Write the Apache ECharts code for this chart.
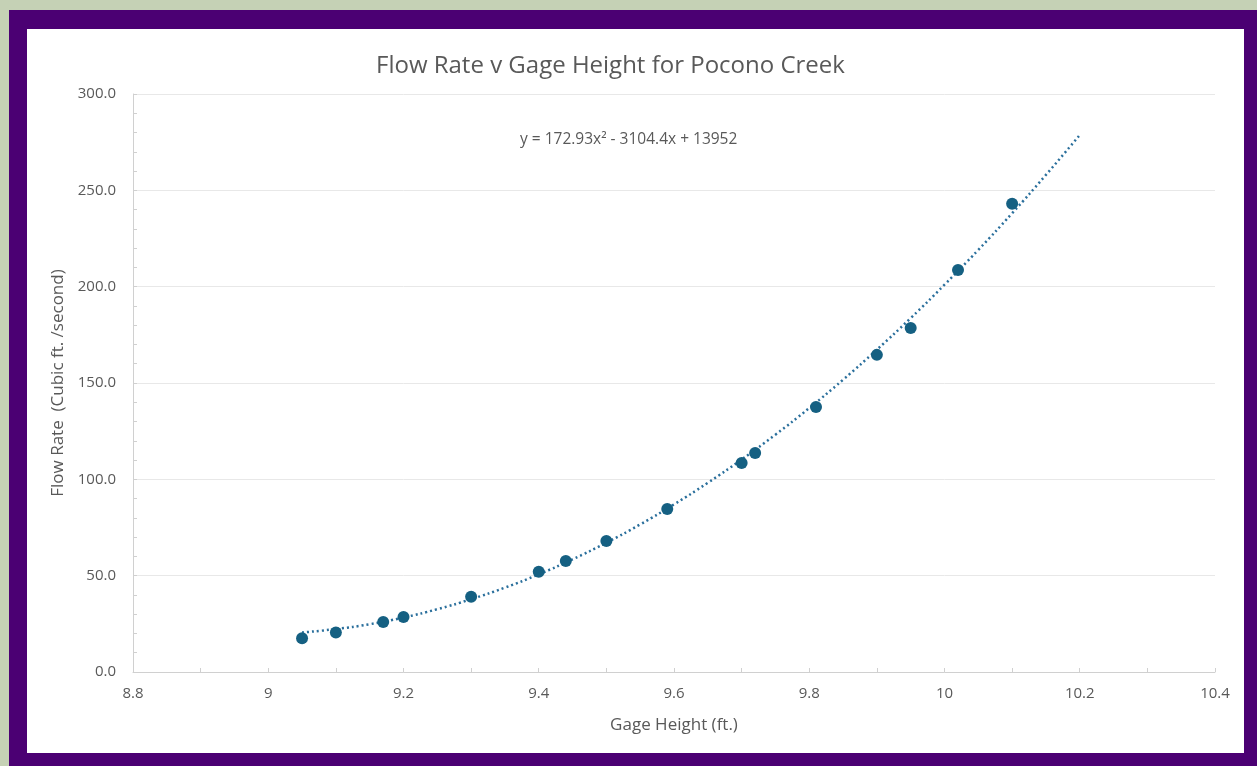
<!DOCTYPE html>
<html>
<head>
<meta charset="utf-8">
<script src="https://cdn.jsdelivr.net/npm/echarts@6/dist/echarts.min.js"></script>
<style>
  html, body { margin:0; padding:0; width:1257px; height:766px; overflow:hidden; background:#c5d1b5; }
  #frame { position:absolute; left:9px; top:10px; width:1248px; height:756px; background:#4b0073; }
  #chart { position:absolute; left:27px; top:29px; width:1217px; height:724px; background:#ffffff; }
</style>
</head>
<body>
<div id="frame"></div>
<div id="chart"></div>
<script>
// Observed data points (Gage Height ft., Flow Rate cfs)
const gageHeight = [9.05, 9.10, 9.17, 9.20, 9.30, 9.40, 9.44, 9.50, 9.59, 9.70, 9.72, 9.81, 9.90, 9.95, 10.02, 10.10];
const flowRate   = [17.5, 20.5, 26.0, 28.6, 39.0, 52.0, 57.6, 68.0, 84.6, 108.5, 113.7, 137.6, 164.6, 178.6, 208.7, 243.0];

// Polynomial trendline (dotted curve)
const trendX = [9.05, 9.10, 9.15, 9.20, 9.25, 9.30, 9.35, 9.40, 9.45, 9.50, 9.55, 9.60, 9.65, 9.70, 9.75, 9.80, 9.85, 9.90, 9.95, 10.00, 10.05, 10.10, 10.15, 10.20];
const trendY = [20.5, 22.3, 24.8, 28.3, 32.6, 37.8, 43.8, 50.7, 58.5, 67.1, 76.6, 87.0, 98.2, 110.3, 123.2, 137.0, 151.7, 167.3, 183.7, 201.0, 219.1, 238.1, 258.0, 278.7];

const xTicks = [8.8, 9, 9.2, 9.4, 9.6, 9.8, 10, 10.2, 10.4];
const yTicks = [0, 50, 100, 150, 200, 250, 300];

const titleText = 'Flow Rate v Gage Height for Pocono Creek';
const equationText = 'y = 172.93x\u00B2 - 3104.4x + 13952';
const xName = 'Gage Height (ft.)';
const yName = 'Flow Rate  (Cubic ft. /second)';

const font = '"Open Sans", "Noto Sans", sans-serif';
const gray = '#595959';

const chart = echarts.init(document.getElementById('chart'));
chart.setOption({
  backgroundColor: '#ffffff',
  animation: false,
  title: [
    { text: titleText, left: 344, top: 20,
      textStyle: { fontFamily: font, fontSize: 24, fontWeight: 'normal', color: gray } },
    { text: equationText, left: 488, top: 98,
      textStyle: { fontFamily: font, fontSize: 15.5, fontWeight: 'normal', color: gray } }
  ],
  grid: { left: 106, top: 65, width: 1082, height: 578, containLabel: false },
  xAxis: {
    type: 'value', min: xTicks[0], max: xTicks[xTicks.length - 1], interval: 0.2,
    name: xName, nameLocation: 'middle', nameGap: 45,
    nameTextStyle: { fontFamily: font, fontSize: 17, color: gray },
    axisLine: { show: true, lineStyle: { color: '#d0d0d0', width: 1 } },
    axisTick: { show: true, inside: true, length: 4, lineStyle: { color: '#d0d0d0' } },
    minorTick: { show: true, splitNumber: 2, length: 4, lineStyle: { color: '#d0d0d0' } },
    splitLine: { show: false },
    axisLabel: { margin: 14, fontFamily: font, fontSize: 15, color: gray,
      formatter: v => String(Math.round(v * 10) / 10) }
  },
  yAxis: {
    type: 'value', min: yTicks[0], max: yTicks[yTicks.length - 1], interval: 50,
    name: yName, nameLocation: 'middle', nameGap: 64, nameRotate: 90,
    nameTextStyle: { fontFamily: font, fontSize: 17, color: gray },
    axisLine: { show: true, lineStyle: { color: '#d0d0d0', width: 1 } },
    axisTick: { show: true, inside: true, length: 4, lineStyle: { color: '#d0d0d0' } },
    minorTick: { show: true, splitNumber: 5, length: 4, lineStyle: { color: '#d0d0d0' } },
    splitLine: { show: true, lineStyle: { color: '#e8e8e8', width: 1 } },
    axisLabel: { margin: 17, fontFamily: font, fontSize: 15, color: gray,
      formatter: v => v.toFixed(1) }
  },
  series: [
    {
      type: 'line', name: 'Trend',
      data: trendX.map((x, i) => [x, trendY[i]]),
      smooth: true, showSymbol: false, symbol: 'none',
      lineStyle: { color: '#2a6f9c', width: 2.5, type: [2, 3] },
      z: 2
    },
    {
      type: 'scatter', name: 'Flow Rate',
      data: gageHeight.map((x, i) => [x, flowRate[i]]),
      symbol: 'circle', symbolSize: 12,
      itemStyle: { color: '#156082', opacity: 1 },
      z: 3
    }
  ]
});
</script>
</body>
</html>
